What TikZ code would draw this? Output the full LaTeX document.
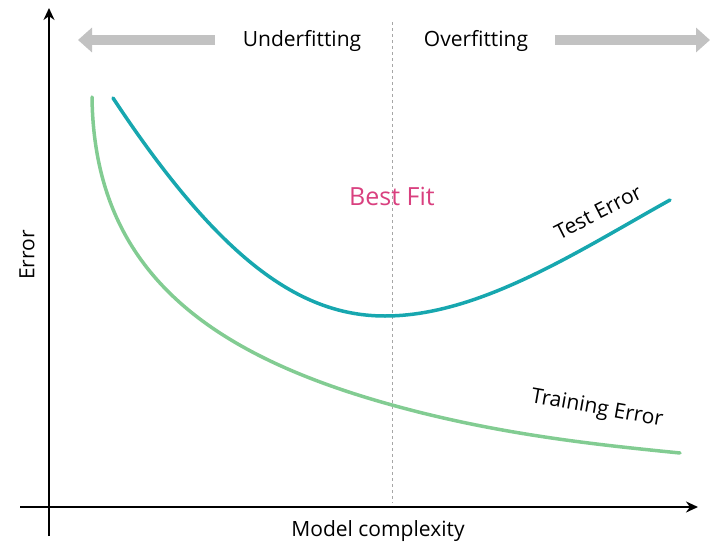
\documentclass[tikz,border=0pt]{standalone}
\usepackage{fontspec}
\setmainfont{Open Sans}
\usetikzlibrary{arrows.meta,positioning}
\definecolor{testcol}{HTML}{17A7AF}
\definecolor{traincol}{HTML}{82CC92}
\definecolor{bestcol}{HTML}{D9407F}
\definecolor{fitgray}{HTML}{C2C2C2}
\begin{document}
\begin{tikzpicture}[x=1pt,y=-1pt,>=Stealth,
	axis/.style={line width=2.4pt,->,>={Stealth[length=12pt,width=11pt]}},
	fatarrow/.style={fitgray,line width=10pt,-{Triangle[length=14pt,width=24pt]}},
	curve/.style={line width=3.5pt,line cap=round}]
		\tikzstyle{every node}=[font=\fontsize{21}{25}\selectfont];
		\useasboundingbox (0,0) rectangle (712,546);
		% axes
		\coordinate (ybot) at (49,536);
		\coordinate (ytop) at (49,8);
		\coordinate (xlft) at (20,507);
		\coordinate (xrgt) at (698,507);
		\draw[axis] (ybot) -- (ytop);
		\draw[axis] (xlft) -- (xrgt);
		\node[rotate=90] (err) at (27,255) {Error};
		\node (cplx) at (378,531) {Model complexity};
		% best fit line
		\coordinate (bftop) at (392,22);
		\coordinate (bfbot) at (392,503);
		\draw[gray!70,dashed] (bftop) -- (bfbot);
		\node[text=bestcol,font=\fontsize{25}{30}\selectfont] (best) at (392,196) {Best Fit};
		% under / over
		\node (under) at (302,41) {Underfitting};
		\node (over) at (476,41) {Overfitting};
		\coordinate (ltip) at (78,40);
		\coordinate (rtip) at (710,40);
		\draw[fatarrow] (215,40) -- (ltip);
		\draw[fatarrow] (555,40) -- (rtip);
		% curves
		\draw[curve,testcol] (113,98) .. controls (220,260) and (300,316) .. (385,316)
			.. controls (480,316) and (580,250) .. (670,200);
		\draw[curve,traincol] (92,97) .. controls (94,265) and (200,352) .. (392,405)
			.. controls (500,435) and (600,445) .. (680,453);
		\node[rotate=27] (test) at (598,212) {Test Error};
		\node[rotate=-10] (train) at (597,409) {Training Error};
	\end{tikzpicture}
\end{document}
